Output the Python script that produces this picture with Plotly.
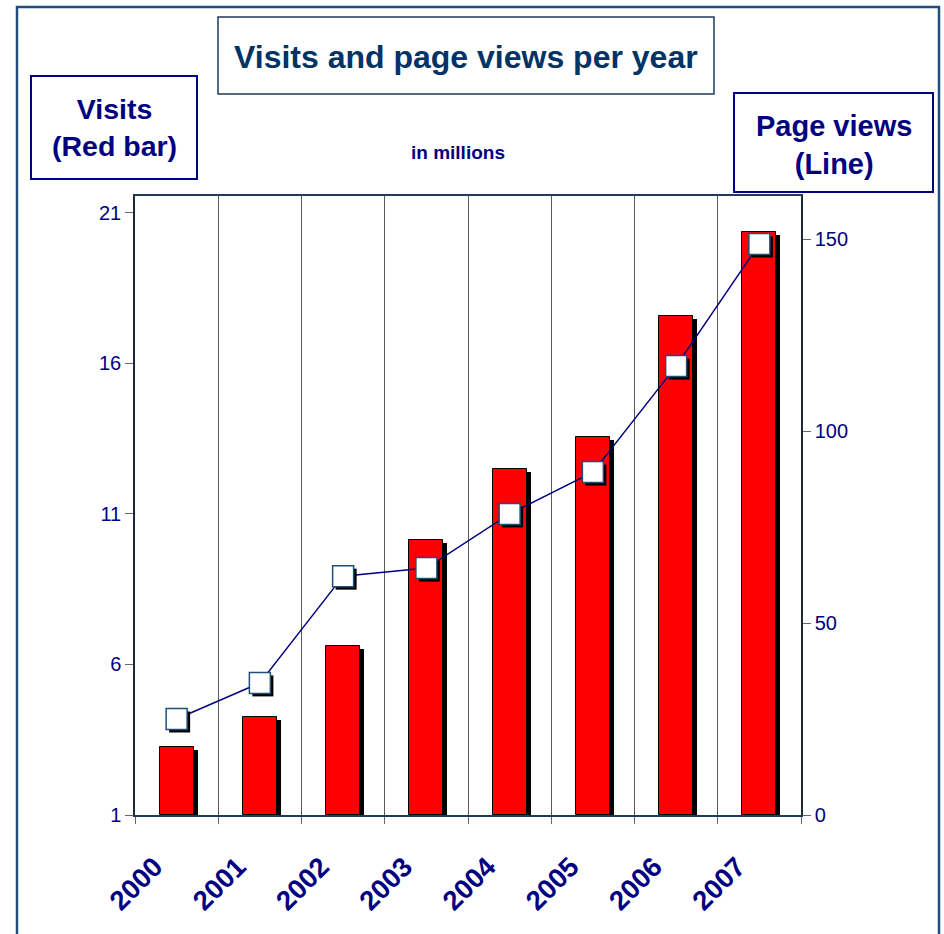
import plotly.graph_objects as go

years = ["2000", "2001", "2002", "2003", "2004", "2005", "2006", "2007"]
visits = [3.26, 4.26, 6.61, 10.14, 12.5, 13.56, 17.58, 20.37]
page_views = [25.0, 34.4, 62.2, 64.3, 78.4, 89.3, 116.9, 148.7]
left_ticks = [1, 6, 11, 16, 21]
right_ticks = [0, 50, 100, 150]

W, H = 944, 934
L, R, T, B = 135, 801, 196, 815
pw, ph = R - L, B - T
def px(x):
    return (x - L) / pw
def py(y):
    return (B - y) / ph

xs = list(range(len(years)))
yr_left = [1, 21.56]
yr_right = [0, 161.2]
bar_w = 0.41
dx_bar = 4 / (pw / 8)
dy_bar = 3 / (ph / (yr_left[1] - yr_left[0]))
dx_mk = 3 / (pw / 8)
dy_mk = 3 / (ph / (yr_right[1] - yr_right[0]))

navy = "#000080"
font_fam = "Arial, Liberation Sans, sans-serif"

fig = go.Figure()
fig.add_trace(go.Bar(x=[x + dx_bar for x in xs], y=[v - dy_bar - 1 for v in visits], base=1,
                     width=bar_w, marker=dict(color="black", line=dict(width=0)),
                     yaxis="y", hoverinfo="skip", showlegend=False))
fig.add_trace(go.Bar(x=xs, y=[v - 1 for v in visits], base=1, width=bar_w,
                     marker=dict(color="#FF0000", line=dict(color="black", width=1)),
                     yaxis="y", name="Visits", showlegend=False))
fig.add_trace(go.Scatter(x=xs, y=page_views, mode="lines",
                         line=dict(color=navy, width=1.5), yaxis="y2", showlegend=False))
fig.add_trace(go.Scatter(x=[x + dx_mk for x in xs], y=[v - dy_mk for v in page_views], mode="markers",
                         marker=dict(symbol="square", size=21, color="black", line=dict(width=0)),
                         yaxis="y2", hoverinfo="skip", showlegend=False))
fig.add_trace(go.Scatter(x=xs, y=page_views, mode="markers",
                         marker=dict(symbol="square", size=21, color="white",
                                     line=dict(color="#1F4E79", width=1.5)),
                         yaxis="y2", name="Page views", showlegend=False))

shapes = [
    dict(type="rect", xref="paper", yref="paper", x0=px(17), x1=px(939), y0=py(7), y1=py(950),
         line=dict(color="#1F4E79", width=2.5), layer="below"),
    dict(type="rect", xref="paper", yref="paper", x0=px(218), x1=px(714), y0=py(17), y1=py(94),
         line=dict(color="#1F3A5F", width=1.5)),
    dict(type="rect", xref="paper", yref="paper", x0=px(31), x1=px(197), y0=py(76), y1=py(179),
         line=dict(color=navy, width=2)),
    dict(type="rect", xref="paper", yref="paper", x0=px(734), x1=px(933), y0=py(93), y1=py(192),
         line=dict(color=navy, width=2)),
]

def ann(text, x, y, size, color):
    return dict(text=text, x=px(x), y=py(y), xref="paper", yref="paper", xanchor="center",
                yanchor="middle", showarrow=False, font=dict(size=size, color=color, family=font_fam))

annotations = [
    ann("<b>Visits and page views per year</b>", 466, 57, 32, "#003366"),
    ann("<b>Visits<br>(Red bar)</b>", 114, 127, 28.5, navy),
    ann("<b>Page views<br>(Line)</b>", 834, 145, 29, navy),
    ann("<b>in millions</b>", 458, 152, 19, navy),
]

fig.update_layout(
    width=W, height=H,
    margin=dict(l=L, r=W - R, t=T, b=H - B, pad=0),
    paper_bgcolor="white", plot_bgcolor="white",
    barmode="overlay", bargap=0,
    showlegend=False,
    shapes=shapes, annotations=annotations,
    xaxis=dict(range=[-0.5, 7.5], tickvals=xs, ticktext=years, ticks="", showgrid=False,
               tickangle=-45, tickfont=dict(size=27.5, color=navy, family=font_fam, weight="bold"),
               ticklabelstandoff=23, ticklabelshift=-22,
               showline=True, linecolor="#1F3A5F", linewidth=1.5, mirror=True, zeroline=False,
               minor=dict(tick0=-0.5, dtick=1, showgrid=True, gridcolor="#5a5a5a", gridwidth=1,
                          ticks="outside", ticklen=7, tickcolor="#666666")),
    yaxis=dict(range=yr_left, tickvals=left_ticks, ticks="outside", ticklen=8, tickcolor="#666666",
               showgrid=False, zeroline=False, showline=True, linecolor="#1a2a3a", linewidth=1.5,
               tickfont=dict(size=20, color=navy, family=font_fam)),
    yaxis2=dict(range=yr_right, tickvals=right_ticks, ticks="outside", ticklen=8, tickcolor="#666666",
                overlaying="y", side="right", showgrid=False, zeroline=False, showline=True,
                linecolor="#1a2a3a", linewidth=1.5,
                tickfont=dict(size=20, color=navy, family=font_fam)),
)

fig.write_html("out.html", config={"displayModeBar": False},
               post_script="document.body.style.margin='0';document.body.style.overflow='hidden';")
